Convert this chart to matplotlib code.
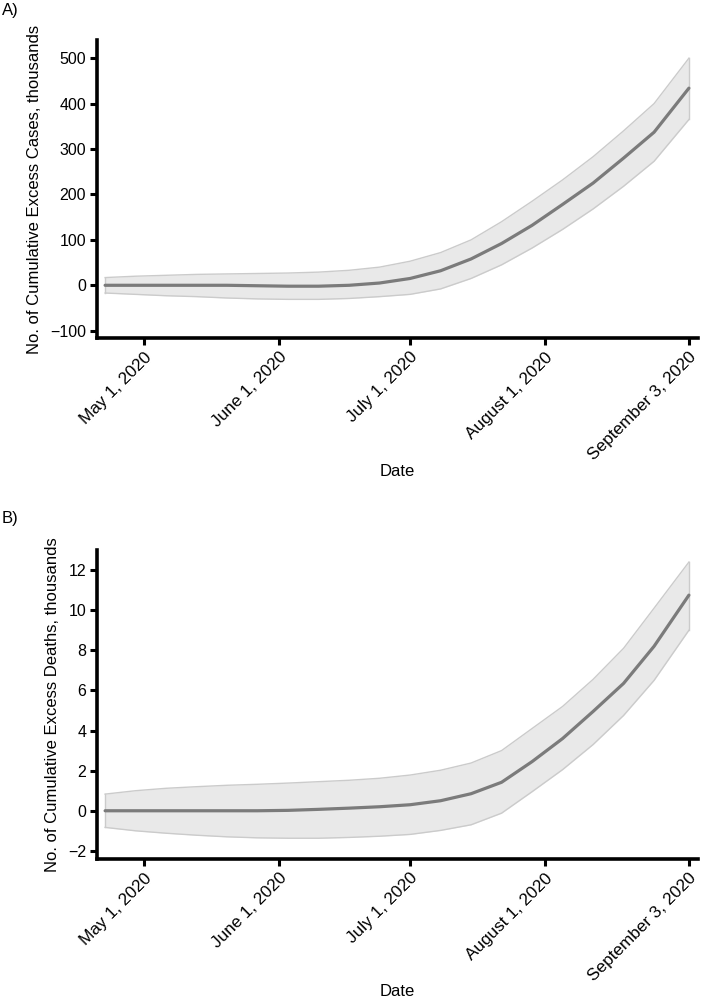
import matplotlib
matplotlib.use("Agg")
import matplotlib.pyplot as plt
import matplotlib.transforms as mtransforms
import numpy as np
import pandas as pd

# ---------------- data ----------------
dates = ["2020-04-22", "2020-04-29", "2020-05-06", "2020-05-13", "2020-05-20",
         "2020-05-27", "2020-06-03", "2020-06-10", "2020-06-17", "2020-06-24",
         "2020-07-01", "2020-07-08", "2020-07-15", "2020-07-22", "2020-07-29",
         "2020-08-05", "2020-08-12", "2020-08-19", "2020-08-26", "2020-09-03"]

cases_mean = [0, 0, 0, 0, 0, -1, -2, -2, 0, 5,
              15, 32, 58, 92, 132, 178, 225, 280, 337, 434]
cases_upper = [17, 20, 22, 24, 25, 26, 27, 29, 33, 40,
               53, 72, 100, 140, 185, 232, 283, 340, 400, 500]
cases_lower = [-17, -20, -23, -25, -28, -30, -31, -31, -29, -25,
               -20, -8, 15, 45, 82, 123, 168, 218, 273, 365]

deaths_mean = [0, 0, 0, 0, 0, 0, 0.02, 0.07, 0.13, 0.2,
               0.3, 0.5, 0.85, 1.42, 2.45, 3.6, 4.95, 6.35, 8.2, 10.75]
deaths_upper = [0.83, 1.0, 1.12, 1.2, 1.27, 1.32, 1.38, 1.45, 1.52, 1.62,
                1.78, 2.02, 2.38, 3.0, 4.1, 5.2, 6.55, 8.1, 10.1, 12.4]
deaths_lower = [-0.83, -1.0, -1.12, -1.22, -1.3, -1.35, -1.37, -1.37, -1.33, -1.27,
                -1.18, -0.98, -0.7, -0.12, 0.95, 2.05, 3.3, 4.75, 6.5, 9.0]

tick_dates = ["2020-05-01", "2020-06-01", "2020-07-01", "2020-08-01", "2020-09-03"]
tick_labels = ["May 1, 2020", "June 1, 2020", "July 1, 2020", "August 1, 2020", "September 3, 2020"]

cases_yticks = [-100, 0, 100, 200, 300, 400, 500]
deaths_yticks = [-2, 0, 2, 4, 6, 8, 10, 12]

FONT = "Liberation Sans"

x = pd.to_datetime(dates)
ticks = pd.to_datetime(tick_dates)

W, H = 703, 1006
fig = plt.figure(figsize=(W / 100, H / 100), dpi=100)


def px_axes(left, top, right, bottom):
    return fig.add_axes([left / W, 1 - bottom / H, (right - left) / W, (bottom - top) / H])


def draw(ax, mean, hi, lo, yticks, ylim, ylabel, date_y):
    mean, hi, lo = np.asarray(mean), np.asarray(hi), np.asarray(lo)
    ax.fill_between(x, lo, hi, color="#e9e9e9", zorder=1, lw=0)
    edge = dict(color="#cbcbcb", lw=1.0, zorder=2)
    ax.plot(x, hi, **edge)
    ax.plot(x, lo, **edge)
    ax.plot([x[0], x[0]], [lo[0], hi[0]], **edge)
    ax.plot([x[-1], x[-1]], [lo[-1], hi[-1]], **edge)
    ax.plot(x, mean, color="#7b7b7b", lw=2.3, zorder=3, solid_capstyle="round")
    ax.set_xlim(pd.Timestamp("2020-04-20 05:00"), pd.Timestamp("2020-09-05 02:00"))
    ax.set_ylim(*ylim)
    ax.set_yticks(yticks)
    ax.set_yticklabels([str(v).replace("-", "\u2212") for v in yticks],
                       fontfamily=FONT, fontsize=11.5)
    ax.set_xticks(ticks)
    ax.set_xticklabels(tick_labels, rotation=45, ha="right", va="top",
                       rotation_mode="anchor", fontfamily=FONT, fontsize=12.3)
    off = mtransforms.ScaledTranslation(6 / 100, -2 / 100, fig.dpi_scale_trans)
    for lab in ax.get_xticklabels():
        lab.set_transform(lab.get_transform() + off)
    for s in ["top", "right"]:
        ax.spines[s].set_visible(False)
    for s in ["left", "bottom"]:
        ax.spines[s].set_linewidth(2.6)
        ax.spines[s].set_color("black")
    ax.tick_params(axis="both", direction="out", length=5, width=2.2, color="black", pad=3)
    ax.set_ylabel(ylabel, fontfamily=FONT, fontsize=12, labelpad=6)
    ax.set_xlabel("Date", fontfamily=FONT, fontsize=12)
    pos = ax.get_position()
    hpx = pos.height * H
    bottom_px = (1 - pos.y0) * H
    ax.xaxis.set_label_coords(0.5, -(date_y - bottom_px) / hpx)
    ax.xaxis.label.set_va("center")


# Panel A
ax1 = px_axes(97.3, 40, 698, 338.3)
draw(ax1, cases_mean, cases_upper, cases_lower, cases_yticks, (-116.7, 540),
     "No. of Cumulative Excess Cases, thousands", 472)

# Panel B
ax2 = px_axes(97.3, 550, 698, 859.3)
draw(ax2, deaths_mean, deaths_upper, deaths_lower, deaths_yticks, (-2.42, 13.0),
     "No. of Cumulative Excess Deaths, thousands", 992)

fig.text(2 / W, 1 - 11 / H, "A)", fontfamily=FONT, fontsize=12, va="center", ha="left")
fig.text(2 / W, 1 - 519 / H, "B)", fontfamily=FONT, fontsize=12, va="center", ha="left")

fig.savefig("out.png", dpi=100, facecolor="white")
